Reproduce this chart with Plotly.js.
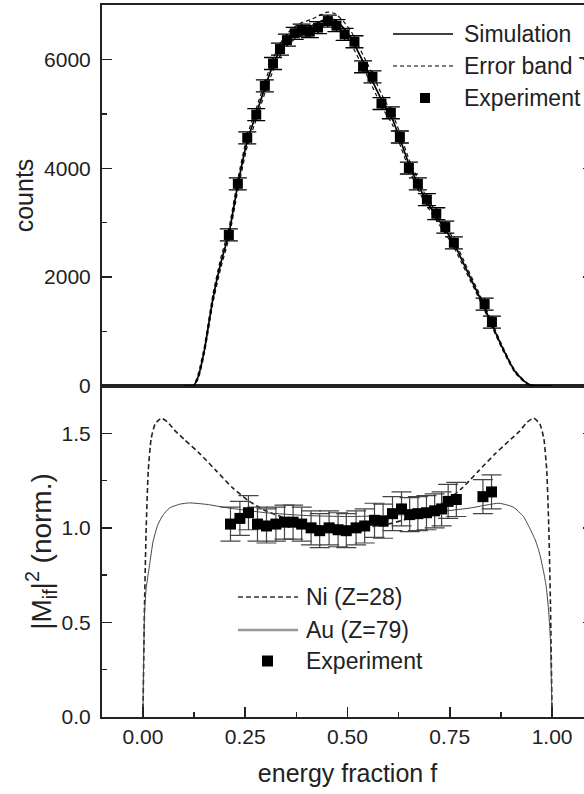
<!DOCTYPE html>
<html>
<head>
<meta charset="utf-8">
<script src="https://cdn.plot.ly/plotly-3.0.1.min.js"></script>
<style>
html,body{margin:0;padding:0;overflow:hidden;background:#fff;width:584px;height:794px;}
#chart{width:600px;height:794px;}
</style>
</head>
<body>
<div id="chart"></div>
<script>
// ---------- Top panel: counts vs energy fraction ----------
const simX = [0.10,0.123,0.135,0.15,0.171,0.19,0.21,0.232,0.255,0.277,0.298,0.318,0.335,0.352,0.371,0.39,0.41,0.43,0.45,0.47,0.49,0.51,0.53,0.55,0.57,0.59,0.61,0.63,0.65,0.67,0.69,0.72,0.74,0.76,0.79,0.82,0.85,0.88,0.91,0.94,0.96,1.0];
const simY = [0,0,170,650,1600,2250,2800,3700,4500,5000,5480,5900,6170,6360,6480,6560,6610,6680,6750,6720,6580,6380,6080,5780,5460,5150,4900,4500,4080,3740,3440,3080,2860,2620,2150,1680,1180,680,260,40,0,0];
const bandUpY = [0,0,220,720,1680,2340,2890,3800,4600,5100,5580,6010,6280,6470,6600,6680,6730,6800,6870,6840,6700,6500,6200,5900,5580,5260,5000,4600,4170,3830,3520,3150,2930,2690,2210,1730,1220,710,280,50,0,0];
const bandLoY = [0,0,130,590,1520,2160,2710,3600,4400,4900,5380,5790,6060,6250,6370,6450,6500,6570,6640,6610,6470,6270,5970,5670,5350,5050,4800,4400,3990,3650,3360,3010,2790,2550,2090,1630,1140,650,240,30,0,0];
const expTopX = [0.210,0.232,0.255,0.277,0.298,0.318,0.335,0.352,0.371,0.388,0.408,0.428,0.452,0.473,0.493,0.517,0.538,0.561,0.583,0.606,0.628,0.650,0.672,0.694,0.717,0.739,0.760,0.835,0.853];
const expTopY = [2775,3715,4560,4985,5515,5925,6190,6355,6480,6540,6510,6585,6705,6620,6460,6325,5865,5680,5190,5020,4575,4005,3715,3425,3165,2920,2630,1505,1175];
const expTopErr = [110,110,110,110,110,110,110,110,110,110,110,110,110,110,110,110,110,110,110,110,110,110,110,110,110,110,110,110,110];

// ---------- Bottom panel: |M_if|^2 (norm.) ----------
const niX = [0,0.004,0.008,0.013,0.02,0.03,0.045,0.06,0.08,0.10,0.14,0.18,0.22,0.26,0.30,0.35,0.40,0.45,0.50,0.55,0.60,0.65,0.70,0.74,0.78,0.82,0.86,0.90,0.92,0.94,0.955,0.97,0.98,0.987,0.992,0.996,1.0];
const niY = [0,0.6,1.0,1.3,1.47,1.55,1.58,1.56,1.51,1.47,1.39,1.30,1.21,1.14,1.09,1.05,1.02,1.005,1.0,1.005,1.02,1.05,1.09,1.14,1.21,1.30,1.39,1.47,1.51,1.56,1.58,1.55,1.47,1.3,1.0,0.6,0];
const auX = [0,0.004,0.008,0.016,0.025,0.037,0.05,0.065,0.09,0.114,0.16,0.20,0.30,0.40,0.50,0.60,0.70,0.80,0.87,0.905,0.93,0.945,0.96,0.97,0.98,0.986,0.992,0.996,1.0];
const auY = [0,0.55,0.68,0.80,0.93,1.02,1.07,1.105,1.125,1.132,1.123,1.108,1.08,1.065,1.06,1.065,1.08,1.105,1.13,1.11,1.06,1.0,0.93,0.86,0.76,0.684,0.55,0.4,0];
const expLowX = [0.214,0.237,0.258,0.280,0.302,0.325,0.346,0.367,0.388,0.411,0.432,0.455,0.477,0.497,0.521,0.542,0.566,0.587,0.610,0.632,0.652,0.672,0.693,0.713,0.730,0.746,0.766,0.831,0.852];
const expLowY = [1.02,1.05,1.08,1.02,1.01,1.02,1.03,1.03,1.02,1.00,0.985,1.00,0.99,0.985,1.00,1.01,1.04,1.035,1.075,1.10,1.07,1.075,1.08,1.09,1.10,1.14,1.15,1.165,1.19];
const expLowErr = [0.09,0.09,0.09,0.09,0.09,0.09,0.09,0.09,0.09,0.09,0.09,0.09,0.09,0.09,0.09,0.09,0.09,0.09,0.09,0.09,0.09,0.09,0.09,0.09,0.09,0.09,0.09,0.09,0.09];

const xTickVals = [0,0.25,0.5,0.75,1.0];
const xTickText = ['0.00','0.25','0.50','0.75','1.00'];

// ---------- layout geometry (pixels) ----------
const W = 600, H = 794, ML = 102, MR = 7, MT = 5, MB = 77;
const PW = W - ML - MR, PH = H - MT - MB;
const split = 331 / PH;
const px = p => (p - ML) / PW;
const py = p => (H - MB - p) / PH;

const FONT = 'Liberation Sans, Arial, Helvetica, sans-serif';
const AX = '#222';

const traces = [
  {x: simX, y: bandUpY, xaxis:'x2', yaxis:'y', mode:'lines', line:{color:'#111', width:1.2, dash:'4px,3px', shape:'spline', smoothing:0.6}, hoverinfo:'skip'},
  {x: simX, y: bandLoY, xaxis:'x2', yaxis:'y', mode:'lines', line:{color:'#111', width:1.2, dash:'4px,3px', shape:'spline', smoothing:0.6}, hoverinfo:'skip'},
  {x: simX, y: simY, xaxis:'x2', yaxis:'y', mode:'lines', line:{color:'#000', width:1.7, shape:'spline', smoothing:0.6}},
  {x: expTopX, y: expTopY, xaxis:'x2', yaxis:'y', mode:'markers',
   marker:{symbol:'square', size:10, color:'#000'},
   error_y:{type:'data', array: expTopErr, visible:true, color:'#000', thickness:1.3, width:9}},
  {x: niX, y: niY, xaxis:'x', yaxis:'y2', mode:'lines', line:{color:'#222', width:1.6, dash:'5px,3px', shape:'spline', smoothing:0.5}},
  {x: auX, y: auY, xaxis:'x', yaxis:'y2', mode:'lines', line:{color:'#444', width:1, shape:'spline', smoothing:0.5}},
  {x: expLowX, y: expLowY, xaxis:'x', yaxis:'y2', mode:'markers',
   marker:{symbol:'square', size:11, color:'#000'},
   error_y:{type:'data', array: expLowErr, visible:true, color:'#444', thickness:1.2, width:10}}
];

const axCommon = {showline:true, linecolor:AX, linewidth:2, showgrid:false, zeroline:false,
  ticks:'inside', ticklen:10, tickwidth:1.5, tickcolor:AX,
  tickfont:{family:FONT, size:21, color:'#222'}};

const shapes = [
  {type:'line', xref:'paper', yref:'paper', x0:px(393), x1:px(453), y0:py(34), y1:py(34), line:{color:'#000', width:1.5}},
  {type:'line', xref:'paper', yref:'paper', x0:px(393), x1:px(453), y0:py(66), y1:py(66), line:{color:'#000', width:1.2, dash:'4px,3px'}},
  {type:'rect', xref:'paper', yref:'paper', x0:px(420), x1:px(430), y0:py(103), y1:py(93), fillcolor:'#000', line:{width:0}},
  {type:'line', xref:'paper', yref:'paper', x0:px(238), x1:px(298), y0:py(597), y1:py(597), line:{color:'#333', width:1.6, dash:'5px,3px'}},
  {type:'line', xref:'paper', yref:'paper', x0:px(238), x1:px(298), y0:py(630), y1:py(630), line:{color:'#999', width:2.5}},
  {type:'rect', xref:'paper', yref:'paper', x0:px(262), x1:px(273), y0:py(666.5), y1:py(655.5), fillcolor:'#000', line:{width:0}}
];

const ann = (t, xp, yp) => ({text:t, xref:'paper', yref:'paper', x:px(xp), y:py(yp), xanchor:'left', yanchor:'middle', showarrow:false, borderpad:0, font:{family:FONT, size:23, color:'#222'}});
const annotations = [
  ann('Simulation', 463, 34),
  ann('Error band T', 463, 66),
  ann('Experiment', 463, 98),
  ann('Ni (Z=28)', 305, 597),
  ann('Au (Z=79)', 305, 630),
  ann('Experiment', 305, 661)
];

const layout = {
  width: W, height: H,
  margin:{l:ML, r:MR, t:MT, b:MB},
  paper_bgcolor:'#fff', plot_bgcolor:'#fff',
  showlegend:false,
  font:{family:FONT, color:'#222'},
  xaxis: Object.assign({}, axCommon, {domain:[0,1], anchor:'y2', range:[-0.1,1.1], tickvals:xTickVals, ticktext:xTickText, mirror:true,
    minor:{tickvals:[0.125,0.375,0.625,0.875], ticks:'inside', ticklen:5, tickwidth:1.3, tickcolor:AX},
    title:{text:'energy fraction f', font:{family:FONT, size:25, color:'#222'}, standoff:17}}),
  xaxis2: Object.assign({}, axCommon, {domain:[0,1], anchor:'y', matches:'x', range:[-0.1,1.1], showticklabels:false, ticks:'', mirror:true}),
  yaxis: Object.assign({}, axCommon, {domain:[split,1], anchor:'x2', range:[0,7000], tickvals:[0,2000,4000,6000], mirror:'ticks', ticklabelstandoff:5,
    minor:{tickvals:[1000,3000,5000], ticks:'inside', ticklen:5, tickwidth:1.3, tickcolor:AX},
    title:{text:'counts', font:{family:FONT, size:25, color:'#222'}, standoff:3}}),
  yaxis2: Object.assign({}, axCommon, {domain:[0,split], anchor:'x', range:[0,1.75], tickvals:[0,0.5,1.0,1.5], ticktext:['0.0','0.5','1.0','1.5'], mirror:'ticks', ticklabelstandoff:5,
    minor:{tickvals:[0.25,0.75,1.25], ticks:'inside', ticklen:5, tickwidth:1.3, tickcolor:AX},
    title:{text:'|M<sub>if</sub>|<sup>2</sup> (norm.)', font:{family:FONT, size:28, color:'#222'}, standoff:2}}),
  shapes: shapes,
  annotations: annotations
};

Plotly.newPlot('chart', traces, layout, {staticPlot:true, displayModeBar:false});
</script>
</body>
</html>
